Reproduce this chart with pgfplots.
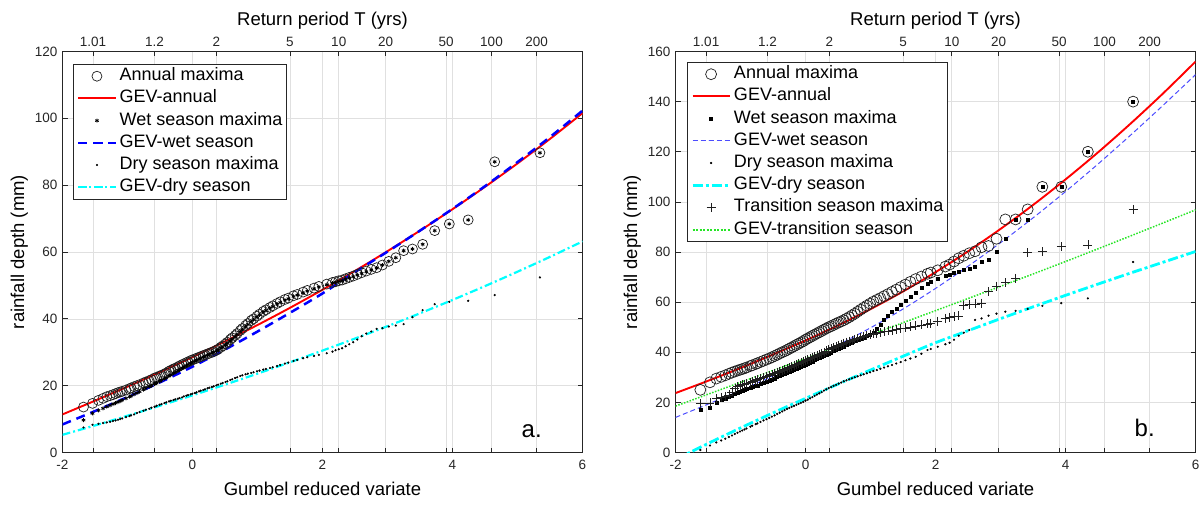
\documentclass[border=0pt]{standalone}
\usepackage{fontspec}
\setmainfont{Liberation Sans}
\usepackage{pgfplots}
\usepackage{pgfplotstable}
\pgfplotsset{compat=1.18}
\definecolor{gridc}{gray}{0.88}
\definecolor{axc}{gray}{0.15}
\definecolor{cyanL}{rgb}{0,1,1}
\definecolor{greenL}{rgb}{0.15,0.9,0.15}
\definecolor{blueW}{rgb}{0.3,0.3,1}
\definecolor{markc}{gray}{0.12}

\pgfplotstableread{
x ann wet dry
-1.677 13.6 9.7 7.5
-1.538 14.7 11.7 8.3
-1.447 15.6 12.6 8.6
-1.376 16.2 13.2 8.8
-1.318 16.7 13.7 9.0
-1.268 17.0 14.1 9.2
-1.224 17.3 14.5 9.4
-1.184 17.6 14.8 9.6
-1.147 17.9 15.1 9.8
-1.113 18.1 15.4 10.0
-1.082 18.3 15.7 10.2
-1.023 18.7 16.2 10.6
-0.970 19.1 16.7 10.9
-0.946 19.3 16.9 11.1
-0.899 19.7 17.4 11.4
-0.855 20.0 17.8 11.8
-0.814 20.3 18.2 12.1
-0.755 20.8 18.8 12.5
-0.718 21.1 19.2 12.8
-0.666 21.5 19.7 13.1
-0.632 21.8 20.0 13.4
-0.583 22.3 20.5 13.7
-0.552 22.5 20.8 14.0
-0.506 22.9 21.3 14.3
-0.476 23.1 21.6 14.5
-0.432 23.5 22.1 14.8
-0.403 23.8 22.4 15.0
-0.361 24.3 22.9 15.3
-0.334 24.6 23.2 15.5
-0.293 25.0 23.7 15.7
-0.266 25.2 24.0 15.9
-0.225 25.6 24.5 16.1
-0.199 25.9 24.8 16.3
-0.159 26.3 25.3 16.5
-0.133 26.5 25.6 16.8
-0.094 26.9 26.0 17.0
-0.068 27.1 26.3 17.2
-0.029 27.5 26.7 17.4
-0.003 27.7 27.0 17.6
0.036 28.0 27.4 17.8
0.062 28.2 27.6 18.0
0.100 28.5 28.0 18.3
0.126 28.7 28.2 18.5
0.166 29.0 28.6 18.7
0.192 29.2 28.8 18.9
0.232 29.5 29.2 19.2
0.258 29.7 29.4 19.4
0.298 30.0 29.8 19.6
0.326 30.2 30.0 19.8
0.367 30.6 30.4 20.1
0.394 30.9 30.7 20.3
0.436 31.5 31.2 20.6
0.464 31.9 31.6 20.8
0.507 32.5 32.2 21.1
0.536 33.0 32.7 21.3
0.581 33.8 33.4 21.7
0.610 34.3 33.9 21.9
0.656 35.0 34.7 22.3
0.687 35.6 35.3 22.5
0.735 36.5 36.2 22.9
0.767 37.1 36.8 23.1
0.817 38.0 37.7 23.4
0.851 38.6 38.3 23.6
0.903 39.5 39.2 23.8
0.939 40.0 39.8 24.0
0.993 40.8 40.6 24.3
1.031 41.4 41.2 24.5
1.089 42.2 42.0 24.8
1.129 42.7 42.5 25.0
1.192 43.4 43.2 25.3
1.235 43.9 43.7 25.5
1.302 44.6 44.4 25.9
1.349 45.1 44.9 26.2
1.422 45.8 45.6 26.6
1.474 46.2 46.0 26.9
1.554 46.9 46.7 27.4
1.611 47.3 47.1 27.7
1.702 48.0 47.8 28.2
1.766 48.5 48.3 28.5
1.870 49.2 49.0 28.9
1.944 49.7 49.5 29.2
2.065 50.4 50.2 29.7
2.154 50.9 50.7 30.2
2.201 51.1 50.9 30.6
2.250 51.4 51.2 30.9
2.302 51.6 51.4 31.2
2.356 52.0 51.8 31.8
2.412 52.4 52.2 32.4
2.472 52.8 52.6 33.0
2.535 53.3 53.1 33.8
2.602 53.8 53.6 34.8
2.674 54.3 54.1 35.6
2.750 54.8 54.6 36.2
2.833 55.3 55.2 37.0
2.922 56.1 56.1 37.2
3.020 57.2 57.2 37.7
3.128 58.3 58.3 38.0
3.248 60.4 60.4 38.4
3.384 60.9 60.9 40.5
3.541 62.3 62.3 42.6
3.726 66.4 66.4 44.4
3.951 68.4 68.4 45.1
4.241 69.6 69.6 45.4
4.649 87.0 87.0 47.1
5.345 89.7 89.7 52.4
}\tblL

\pgfplotstableread{
x ann wet dry tra
-1.618 25.0 17.0 1.0 19.5
-1.470 28.0 18.0 2.8 19.8
-1.372 29.5 20.0 4.0 21.5
-1.297 30.2 21.0 4.8 22.0
-1.234 30.8 21.6 5.5 22.3
-1.179 31.4 22.3 6.2 23.0
-1.131 31.9 22.8 6.8 24.2
-1.087 32.3 23.3 7.4 25.5
-1.046 32.7 23.8 7.9 26.2
-1.008 33.0 24.3 8.4 26.8
-0.973 33.3 24.7 8.8 27.0
-0.939 33.6 25.0 9.2 27.3
-0.908 33.9 25.3 9.6 27.5
-0.848 34.5 25.8 10.3 28.0
-0.820 34.8 26.1 10.7 28.3
-0.767 35.3 26.6 11.3 28.8
-0.741 35.6 26.8 11.6 29.0
-0.693 36.1 27.3 12.2 29.5
-0.646 36.6 27.8 12.8 29.9
-0.601 37.1 28.3 13.3 30.4
-0.558 37.5 28.7 13.8 30.8
-0.517 38.0 29.2 14.3 31.2
-0.476 38.5 29.6 14.8 31.6
-0.436 39.0 30.1 15.4 32.0
-0.397 39.5 30.5 15.9 32.4
-0.359 40.0 31.0 16.4 32.8
-0.322 40.4 31.4 16.9 33.2
-0.285 40.9 31.9 17.4 33.6
-0.249 41.4 32.3 17.8 34.0
-0.213 41.9 32.8 18.2 34.4
-0.177 42.4 33.2 18.6 34.8
-0.141 42.9 33.6 19.0 35.2
-0.106 43.4 34.0 19.4 35.6
-0.071 43.9 34.4 19.8 36.0
-0.035 44.4 34.8 20.2 36.4
0.000 45.0 35.2 20.7 36.8
0.035 45.5 35.6 21.1 37.2
0.070 46.0 36.0 21.6 37.6
0.105 46.5 36.4 22.1 38.0
0.140 47.0 36.9 22.6 38.4
0.176 47.5 37.3 23.1 38.8
0.212 48.0 37.8 23.6 39.2
0.248 48.5 38.2 24.1 39.6
0.284 49.0 38.7 24.7 40.1
0.320 49.5 39.1 25.2 40.5
0.357 50.0 39.6 25.7 41.0
0.395 50.4 40.0 26.1 41.4
0.432 50.9 40.5 26.6 41.9
0.471 51.4 41.0 27.0 42.3
0.510 51.9 41.5 27.5 42.8
0.549 52.3 41.9 27.9 43.2
0.589 52.8 42.4 28.4 43.6
0.630 53.4 42.9 28.8 44.0
0.672 54.0 43.4 29.2 44.4
0.714 54.7 43.9 29.6 44.8
0.758 55.4 44.5 30.0 45.2
0.802 56.2 45.0 30.4 45.6
0.848 57.0 45.5 30.8 46.0
0.895 57.8 46.0 31.2 46.4
0.943 58.6 46.6 31.6 46.7
0.993 59.4 47.2 32.0 47.0
1.044 60.2 48.0 32.5 47.3
1.097 60.9 49.4 32.9 47.6
1.152 61.6 51.0 33.4 47.9
1.209 62.4 52.8 33.9 48.2
1.268 63.2 54.5 34.4 48.5
1.331 64.1 56.0 34.9 48.8
1.396 65.0 57.5 35.5 49.1
1.464 66.0 59.0 36.1 49.4
1.537 67.0 60.5 36.8 49.7
1.613 68.1 62.1 37.5 50.1
1.695 69.2 63.8 38.2 50.5
1.783 70.2 65.6 39.4 50.9
1.877 71.3 67.5 40.9 51.3
1.927 71.8 68.2 41.3 51.6
2.034 72.7 69.5 42.2 52.3
2.152 74.2 70.5 43.2 53.5
2.217 75.0 71.0 43.8 54.0
2.285 76.2 71.6 45.0 54.3
2.357 77.5 72.2 46.6 54.5
2.435 78.5 72.8 47.8 58.8
2.519 79.5 73.3 48.9 59.1
2.609 80.3 74.1 52.9 59.3
2.708 81.9 76.0 53.5 59.6
2.816 82.4 76.8 54.6 64.2
2.938 85.3 80.0 55.4 66.4
3.074 93.0 85.4 56.2 67.8
3.232 93.0 93.0 56.5 69.5
3.418 97.0 93.0 57.3 79.7
3.644 106.0 106.0 58.5 80.1
3.935 106.0 106.0 59.6 82.1
4.344 120.0 120.0 61.5 82.8
5.040 140.0 140.0 76.0 97.0
}\tblR

\pgfplotsset{
  panel/.style={
    scale only axis, width=520pt, height=401pt,
    xmin=-2, xmax=6, ymin=0,
    xtick={-2,0,2,4,6}, xticklabels={-2,0,2,4,6},
    extra x ticks={-1.529,-0.583,0.367,1.500,2.250,2.970,3.902,4.600,5.296},
    extra x tick labels={},
    extra x tick style={grid=major},
    xtick pos=left, ytick pos=both,
    tick align=inside, major tick length=5pt,
    grid=major,
    major grid style={gridc, line width=0.6pt},
    axis line style={axc, line width=0.7pt},
    every tick/.style={axc, line width=0.7pt},
    tick label style={font=\fontsize{13.5}{15}\selectfont, text=axc},
    xticklabel style={yshift=-4pt},
    yticklabel style={xshift=-1.5pt},
    label style={font=\fontsize{18.5}{21}\selectfont},
    xlabel style={yshift=-6pt},
    xlabel={Gumbel reduced variate},
    ylabel={rainfall depth (mm)},
    legend cell align=left,
    legend style={anchor=north west, draw=axc, fill=white,
      inner xsep=4pt, inner ysep=3.5pt, row sep=5.2pt, column sep=3pt,
      font=\fontsize{18}{20}\selectfont,
      nodes={inner sep=0pt, text height=13pt, text depth=4pt}},
    legend image code/.code={\draw[mark repeat=2,mark phase=2,##1] plot coordinates {(0pt,0pt) (18.5pt,0pt) (37pt,0pt)};},
  },
  topaxis/.style={
    scale only axis, width=520pt, height=401pt,
    xmin=-2, xmax=6, ymin=0, ymax=1,
    axis x line*=top, axis y line=none,
    xtick={-1.529,-0.583,0.367,1.500,2.250,2.970,3.902,4.600,5.296},
    xticklabels={1.01,1.2,2,5,10,20,50,100,200},
    tick align=inside, major tick length=5pt,
    axis line style={-, axc, line width=0.7pt},
    every tick/.style={axc, line width=0.7pt},
    tick label style={font=\fontsize{13.5}{15}\selectfont, text=axc},
    xticklabel style={yshift=1pt},
    label style={font=\fontsize{18.5}{21}\selectfont},
    xlabel style={yshift=1.5pt},
    xlabel={Return period T (yrs)},
  },
  annual/.style={only marks, mark=o, mark size=5pt, mark options={draw=markc, line width=0.7pt}},
  drym/.style={only marks, mark=*, mark size=0.9pt, mark options={draw=black, fill=black}},
}

\begin{document}
\begin{tikzpicture}
\useasboundingbox (0,0) rectangle (1202pt,504pt);

% ---------------- left panel ----------------
\begin{axis}[panel, at={(62.5pt,51.5pt)}, anchor=south west,
  ymax=120, ytick={0,20,40,60,80,100,120}, yticklabels={0,20,40,60,80,100,120},
  legend style={at={(0.0202,0.9688)}}]
\addplot[annual] table[x=x,y=ann] {\tblL};
\addlegendentry{Annual maxima}
\addplot[red, line width=1.9pt, smooth] coordinates {(-2,11.4) (-1.5,15.5) (-1,19.7) (-0.5,24.05) (0,28.55) (0.5,33.25) (1,38.15) (1.5,43.3) (2,48.7) (2.5,54.35) (3,60.25) (3.5,66.4) (4,72.8) (4.5,79.5) (5,86.5) (5.5,93.85) (6,101.55)};
\addlegendentry{GEV-annual}
\addplot[only marks, mark=asterisk, mark size=2pt, mark options={draw=black, line width=0.8pt}] table[x=x,y=wet] {\tblL};
\addlegendentry{Wet season maxima}
\addplot[blue, line width=2.5pt, dash pattern=on 9pt off 6pt, smooth] coordinates {(-2,8.4) (-1.5,12.4) (-1,16.6) (-0.5,21.0) (0,25.7) (0.5,30.8) (1,36.2) (1.5,41.8) (2,47.6) (2.5,54.0) (3,60.1) (3.5,66.4) (4,72.9) (4.5,79.7) (5,86.9) (5.5,94.4) (6,102.3)};
\addlegendentry{GEV-wet season}
\addplot[drym] table[x=x,y=dry] {\tblL};
\addlegendentry{Dry season maxima}
\addplot[cyanL, line width=2.2pt, dash pattern=on 8pt off 3pt on 2pt off 3pt, smooth] coordinates {(-2,5.3) (-1.5,8.1) (-1,11.0) (-0.5,14.0) (0,17.1) (0.5,20.3) (1,23.6) (1.5,27.0) (2,30.5) (2.5,34.1) (3,37.8) (3.5,41.65) (4,45.65) (4.5,49.8) (5,54.1) (5.5,58.55) (6,63.15)};
\addlegendentry{GEV-dry season}
\node[anchor=base west, font=\fontsize{24}{26}\selectfont] at (axis cs:5.01,4.6) {a.};
\end{axis}
\begin{axis}[topaxis, at={(62.5pt,51.5pt)}, anchor=south west]
\end{axis}

% ---------------- right panel ----------------
\begin{axis}[panel, at={(675.5pt,51.5pt)}, anchor=south west,
  ymax=160, ytick={0,20,40,60,80,100,120,140,160}, yticklabels={0,20,40,60,80,100,120,140,160},
  legend style={at={(0.0221,0.9738)}}]
\addplot[annual, mark size=5.5pt] table[x=x,y=ann] {\tblR};
\addlegendentry{Annual maxima}
\addplot[red, line width=1.9pt, smooth] coordinates {(-2,23.7) (-1.5,28.6) (-1,33.7) (-0.5,39.1) (0,44.7) (0.5,50.7) (1,57.2) (1.5,64.25) (2,71.95) (2.5,80.25) (3,89.2) (3.5,98.75) (4,108.95) (4.5,119.75) (5,131.2) (5.5,143.25) (6,155.95)};
\addlegendentry{GEV-annual}
\addplot[only marks, mark=square*, mark size=1.5pt, mark options={draw=black, fill=black}] table[x=x,y=wet] {\tblR};
\addlegendentry{Wet season maxima}
\addplot[blueW, line width=1pt, dash pattern=on 5pt off 3pt, smooth] coordinates {(-2,14.0) (-1.5,19.3) (-1,24.8) (-0.5,30.55) (0,36.55) (0.5,42.9) (1,49.75) (1.5,57.25) (2,65.45) (2.5,74.3) (3,83.7) (3.5,93.6) (4,104.1) (4.5,115.1) (5,126.6) (5.5,138.5) (6,150.75)};
\addlegendentry{GEV-wet season}
\addplot[drym] table[x=x,y=dry] {\tblR};
\addlegendentry{Dry season maxima}
\addplot[cyanL, line width=2.8pt, dash pattern=on 10pt off 3pt on 3pt off 3pt, smooth] coordinates {(-2,-2.8) (-1.5,3.6) (-1,9.8) (-0.5,15.8) (0,21.6) (0.5,27.3) (1,32.9) (1.5,38.4) (2,43.8) (2.5,48.6) (3,53.4) (3.5,58.1) (4,62.7) (4.5,67.2) (5,71.6) (5.5,75.9) (6,80.2)};
\addlegendentry{GEV-dry season}
\addplot[only marks, mark=+, mark size=4.5pt, mark options={draw=markc, line width=0.7pt}] table[x=x,y=tra] {\tblR};
\addlegendentry{Transition season maxima}
\addplot[greenL, line width=1.5pt, dash pattern=on 1.5pt off 1.5pt, smooth,
  legend image code/.code={\draw[draw=greenL, line width=1.8pt, dash pattern=on 2pt off 1.5pt] (0pt,0pt) -- (37pt,0pt);}] coordinates {(-2,18.5) (-1,28.0) (0,37.5) (1,47.0) (2,56.6) (3,66.3) (4,76.2) (5,86.4) (6,96.8)};
\addlegendentry{GEV-transition season}
\node[anchor=base west, font=\fontsize{24}{26}\selectfont] at (axis cs:5.01,6.2) {b.};
\end{axis}
\begin{axis}[topaxis, at={(675.5pt,51.5pt)}, anchor=south west]
\end{axis}
\end{tikzpicture}
\end{document}
